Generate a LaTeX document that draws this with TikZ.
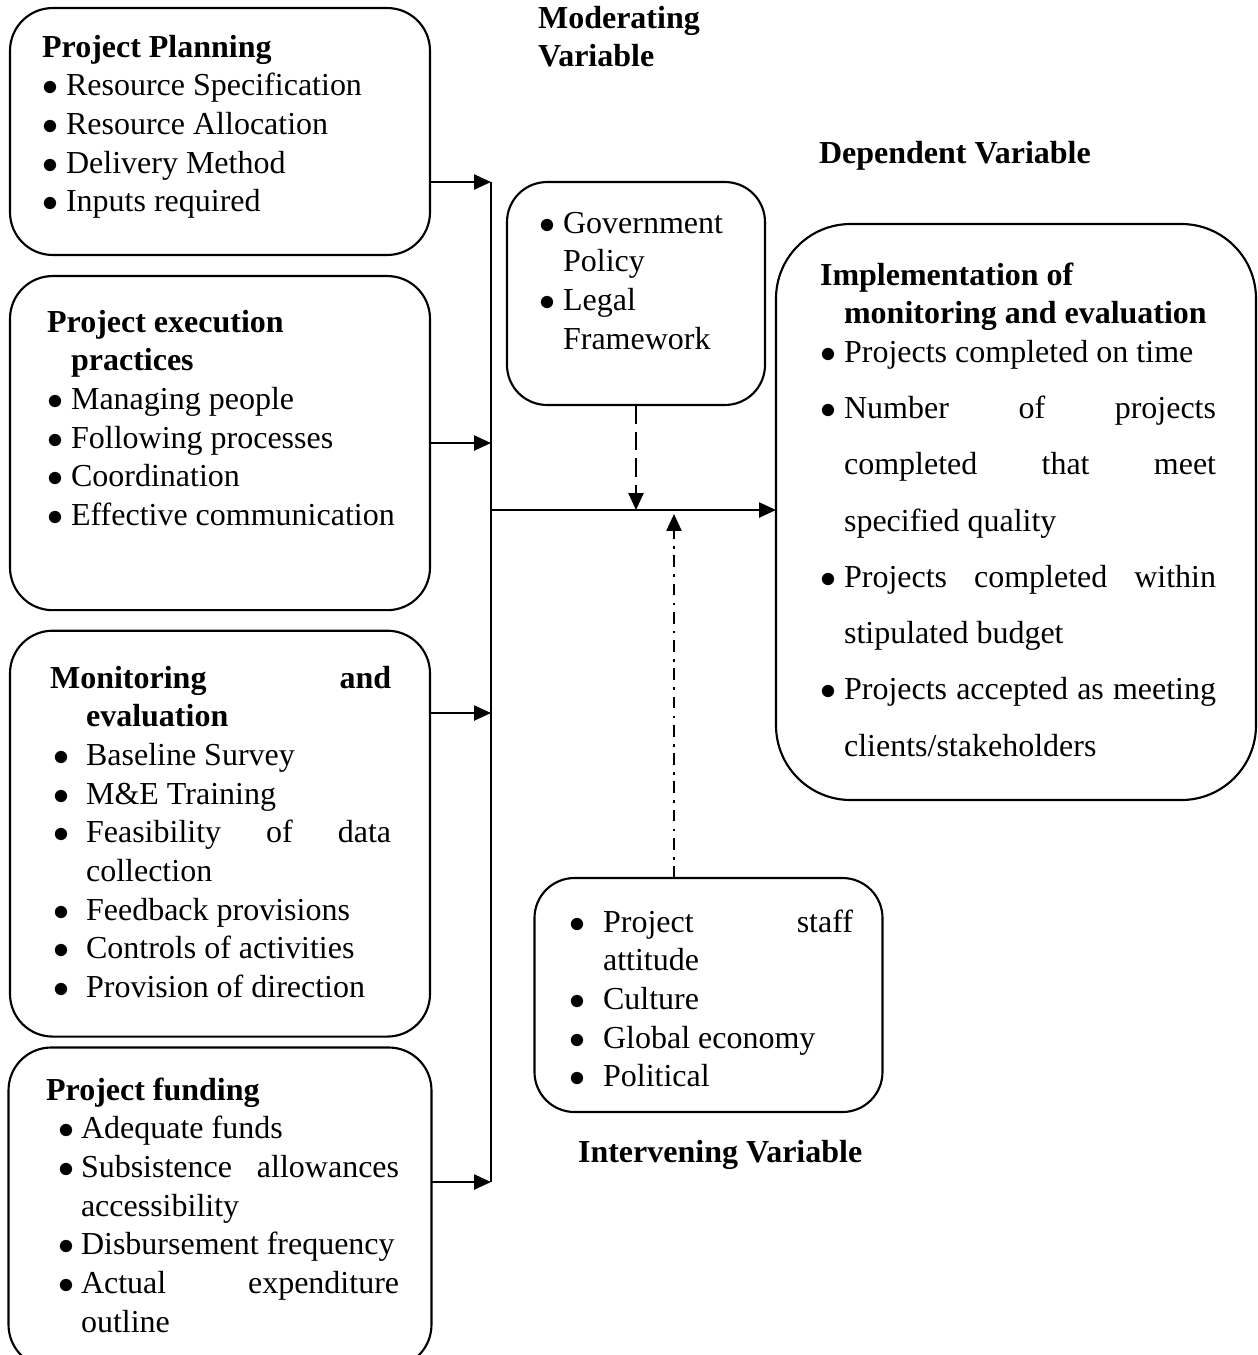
\documentclass[tikz,border=0pt]{standalone}
\usepackage{fontspec}
\setmainfont{Liberation Serif}
\usetikzlibrary{arrows.meta,positioning}

\newcommand{\bl}[2]{\makebox[#1][l]{$\bullet$}#2}

\begin{document}
\begin{tikzpicture}[x=0.375pt,y=-0.375pt,>={Triangle[length=6.3pt,width=5.6pt]},line width=0.8pt,
	varbox/.style={draw,rounded corners=16pt,inner sep=0pt,outer sep=0pt},
	txt/.style={anchor=base west,inner sep=0pt,align=flush left,font=\fontsize{12}{14.5}\selectfont},
	modline/.style={dash pattern=on 7pt off 3pt},
	intline/.style={dash pattern=on 4.4pt off 2.5pt on 1pt off 2.7pt}]
	\useasboundingbox (0,0) rectangle (1258,1355);

	\node (plan) [varbox,minimum width=157.5pt,minimum height=92.6pt] at (220,131.5) {};
	\node (exec) [varbox,minimum width=157.5pt,minimum height=125.3pt,below=7.9pt of plan] {};
	\node (mon) [varbox,minimum width=157.5pt,minimum height=152.2pt,below=7.7pt of exec] {};
	\node (fund) [varbox,minimum width=158.6pt,minimum height=120pt,below=4.1pt of mon] {};
	\node (gov) [varbox,rounded corners=15pt,minimum width=96.75pt,minimum height=83.6pt] at (636,293.5) {};
	\node (dep) [varbox,rounded corners=28pt,minimum width=180pt,minimum height=216pt] at (1016,512) {};
	\node (intv) [varbox,rounded corners=15pt,minimum width=130.5pt,minimum height=87.75pt] at (708.5,995) {};

	\node (plantxt) [txt,text width=150pt] at (41,57) {\textbf{Project Planning}\\
		\bl{9pt}{Resource Specification}\\
		\bl{9pt}{Resource Allocation}\\
		\bl{9pt}{Delivery Method}\\
		\bl{9pt}{Inputs required}};
	\node (exectxt) [txt,text width=150pt] at (46,332) {\textbf{Project execution}\\
		\hspace*{9pt}\textbf{practices}\\
		\bl{9pt}{Managing people}\\
		\bl{9pt}{Following processes}\\
		\bl{9pt}{Coordination}\\
		\bl{9pt}{Effective communication}};
	\node (montxt) [txt,text width=127.9pt] at (49,688) {\textbf{Monitoring}\hfill\textbf{and}\\
		\hspace*{13.5pt}\textbf{evaluation}\\
		\hspace*{1.1pt}\bl{12.4pt}{Baseline Survey}\\
		\hspace*{1.1pt}\bl{12.4pt}{M\&E Training}\\
		\hspace*{1.1pt}\bl{12.4pt}{Feasibility\hfill of\hfill data}\\
		\hspace*{13.5pt}collection\\
		\hspace*{1.1pt}\bl{12.4pt}{Feedback provisions}\\
		\hspace*{1.1pt}\bl{12.4pt}{Controls of activities}\\
		\hspace*{1.1pt}\bl{12.4pt}{Provision of direction}};
	\node (fundtxt) [txt,text width=132.4pt] at (45,1100) {\textbf{Project funding}\\
		\hspace*{4.5pt}\bl{8.6pt}{Adequate funds}\\
		\hspace*{4.5pt}\bl{8.6pt}{Subsistence\hfill allowances}\\
		\hspace*{13.1pt}accessibility\\
		\hspace*{4.5pt}\bl{8.6pt}{Disbursement frequency}\\
		\hspace*{4.5pt}\bl{8.6pt}{Actual\hfill expenditure}\\
		\hspace*{13.1pt}outline};
	\node (govtxt) [txt,text width=90pt] at (538,233) {\bl{9pt}{Government}\\
		\hspace*{9pt}Policy\\
		\bl{9pt}{Legal}\\
		\hspace*{9pt}Framework};
	\node (deptxt) [txt,text width=148.5pt] at (819,285) {\textbf{Implementation of}\\
		\hspace*{9pt}\textbf{monitoring and evaluation}\\
		\bl{9pt}{Projects completed on time}\\[6.6pt]
		\bl{9pt}{Number\hfill of\hfill projects}\\[6.6pt]
		\hspace*{9pt}completed\hfill that\hfill meet\\[6.6pt]
		\hspace*{9pt}specified quality\\[6.6pt]
		\bl{9pt}{Projects\hfill completed\hfill within}\\[6.6pt]
		\hspace*{9pt}stipulated budget\\[6.6pt]
		\bl{9pt}{Projects\hfill accepted\hfill as\hfill meeting}\\[6.6pt]
		\hspace*{9pt}clients/stakeholders};
	\node (intvtxt) [txt,text width=106.5pt] at (568,932) {\bl{12.75pt}{Project\hfill staff}\\
		\hspace*{12.75pt}attitude\\
		\bl{12.75pt}{Culture}\\
		\bl{12.75pt}{Global economy}\\
		\bl{12.75pt}{Political}};

	\node (modlbl) [txt,text width=80pt] at (537,28) {\textbf{Moderating}\\\textbf{Variable}};
	\node (deplbl) [txt,text width=120pt] at (818,163) {\textbf{Dependent Variable}};
	\node (intlbl) [txt,text width=120pt] at (577,1162) {\textbf{Intervening Variable}};

	\coordinate (j1) at (491,182);
	\coordinate (j2) at (491,443);
	\coordinate (j3) at (491,713);
	\coordinate (j4) at (491,1182);
	\coordinate (j0) at (491,510);
	\coordinate (hit) at (674,514);

	\draw (j1) -- (j4);
	\draw[->] (plan.east |- j1) -- (j1);
	\draw[->] (exec.east |- j2) -- (j2);
	\draw[->] (mon.east |- j3) -- (j3);
	\draw[->] (fund.east |- j4) -- (j4);
	\draw[->] (j0) -- (j0 -| dep.west);
	\draw[->,modline] (gov.south) -- (gov.south |- j0);
	\draw[->,intline] (hit |- intv.north) -- (hit);
\end{tikzpicture}
\end{document}
